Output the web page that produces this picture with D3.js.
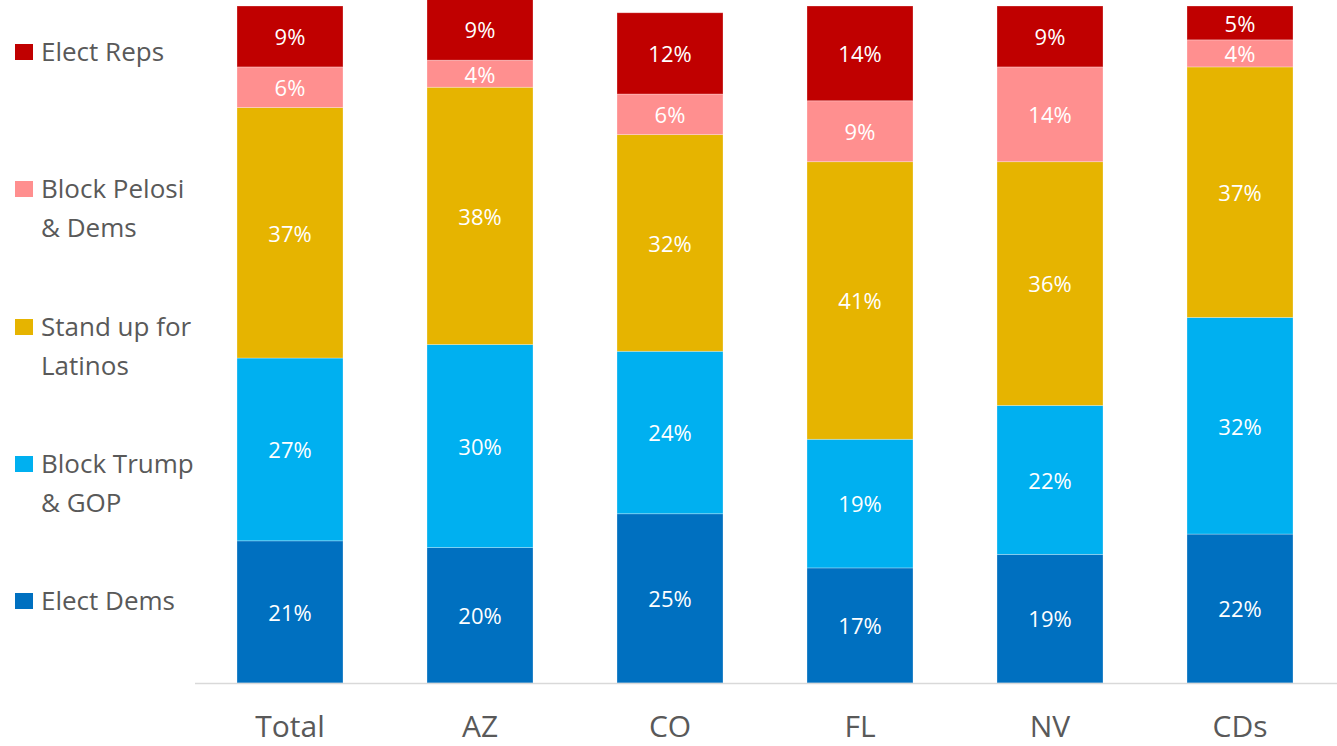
<!DOCTYPE html>
<html><head><meta charset="utf-8">
<script src="https://cdn.jsdelivr.net/npm/d3@7"></script>
<style>body{margin:0;background:#fff}svg{display:block}</style>
</head><body>
<svg id="c" width="1337" height="746"></svg>
<script>
const categories = ["Total","AZ","CO","FL","NV","CDs"];
const seriesNames = ["Elect Dems","Block Trump & GOP","Stand up for Latinos","Block Pelosi & Dems","Elect Reps"];
const electDems   = [21,20,25,17,19,22];
const blockTrump  = [27,30,24,19,22,32];
const standUp     = [37,38,32,41,36,37];
const blockPelosi = [6,4,6,9,14,4];
const electReps   = [9,9,12,14,9,5];
const colors = ["#0070C0","#00B0F0","#E6B400","#FF8F8F","#C00000"];
const legendLines = [["Elect Reps"],["Block Pelosi","& Dems"],["Stand up for","Latinos"],["Block Trump","& GOP"],["Elect Dems"]];
const legendColors = ["#C00000","#FF8F8F","#E6B400","#00B0F0","#0070C0"];

const series = [electDems,blockTrump,standUp,blockPelosi,electReps];
const data = categories.map((c,i)=>{const o={cat:c};seriesNames.forEach((s,k)=>o[s]=series[k][i]);return o;});
const stacked = d3.stack().keys(seriesNames)(data);

const svg = d3.select("#c");
const font = "'Open Sans', sans-serif";
const xs = d3.scaleBand().domain(categories).range([195,1335]).paddingInner(84/190).paddingOuter(42/190);
const y = d3.scaleLinear().domain([0,100]).range([683,6]);

const g = svg.append("g");
stacked.forEach((layer,k)=>{
  g.selectAll(null).data(layer).join("rect")
    .attr("x",d=>xs(d.data.cat)).attr("width",xs.bandwidth())
    .attr("y",d=>y(d[1])).attr("height",d=>y(d[0])-y(d[1]))
    .attr("fill",colors[k]).attr("stroke","#ffffff").attr("stroke-opacity",0.35).attr("stroke-width",0.8);
  g.selectAll(null).data(layer).join("text")
    .attr("x",d=>xs(d.data.cat)+xs.bandwidth()/2)
    .attr("y",d=>(y(d[0])+y(d[1]))/2)
    .attr("dy","0.4em").attr("text-anchor","middle")
    .attr("fill","#fff").attr("font-family",font).attr("font-size",22)
    .text(d=>(d[1]-d[0])+"%");
});

// axis line
svg.append("line").attr("x1",195).attr("x2",1337).attr("y1",683.5).attr("y2",683.5)
  .attr("stroke","#d9d9d9").attr("stroke-width",1.5);
const ax = svg.append("g").attr("transform","translate(0,683)").call(d3.axisBottom(xs).tickSize(0).tickPadding(0));
ax.select(".domain").remove();
ax.selectAll("text").attr("y",54).attr("dy",0).attr("font-family",font).attr("font-size",30).attr("fill","#595959");

// legend
const legendY = [52,189,327,464,601];
const lg = svg.append("g");
legendLines.forEach((lines,i)=>{
  lg.append("rect").attr("x",15).attr("y",legendY[i]-8).attr("width",18).attr("height",16).attr("fill",legendColors[i]);
  lines.forEach((t,j)=>{
    lg.append("text").attr("x",41).attr("y",legendY[i]+j*39).attr("dy","0.35em")
      .attr("font-family",font).attr("font-size",26).attr("fill","#595959").text(t);
  });
});
</script>
</body></html>
